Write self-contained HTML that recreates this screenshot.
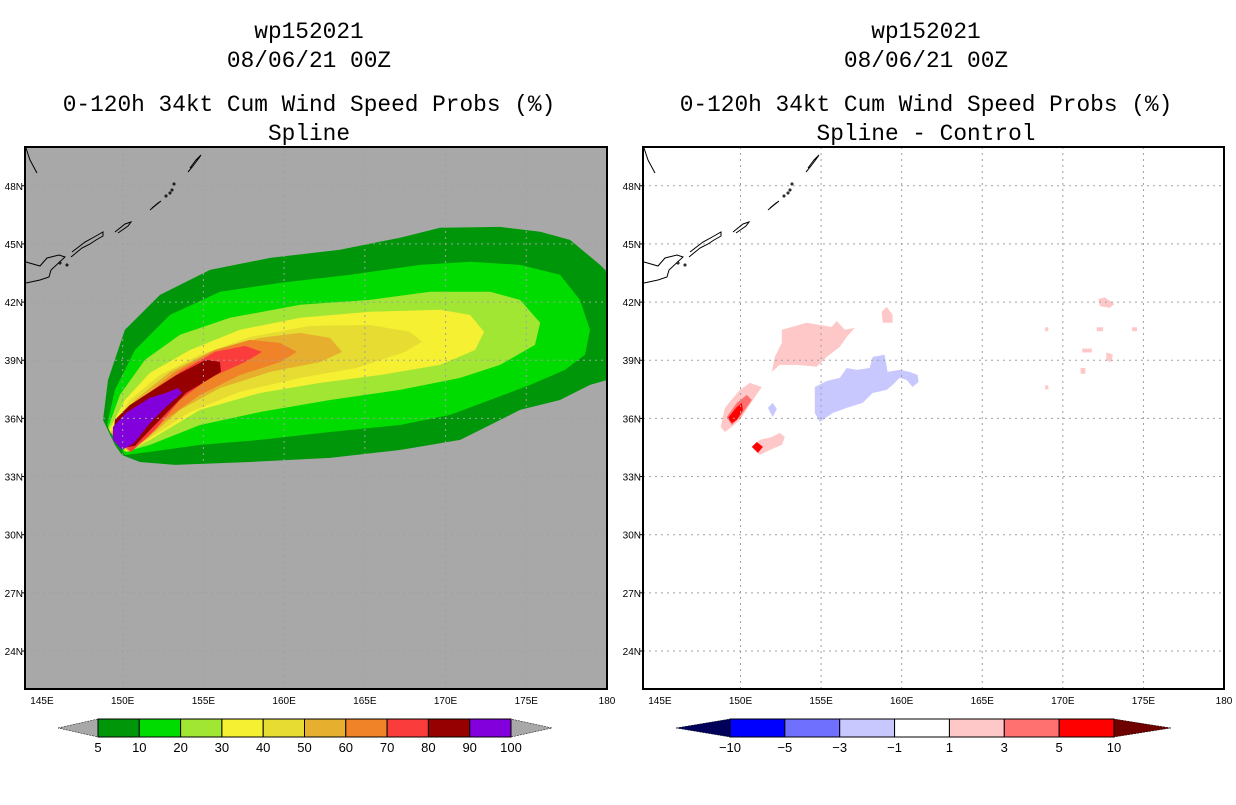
<!DOCTYPE html>
<html><head><meta charset="utf-8">
<style>
body{margin:0;background:#fff;width:1236px;height:800px;overflow:hidden;font-family:"Liberation Sans",sans-serif;}
svg text{font-family:"Liberation Sans",sans-serif;}
svg .ttl text{font-family:"Liberation Mono",monospace;}
</style></head>
<body>
<svg id="svg" width="1236" height="800" viewBox="0 0 1236 800" xmlns="http://www.w3.org/2000/svg">
<g class="ttl" font-size="22.8" text-anchor="middle" fill="#000">
<text x="309" y="38">wp152021</text>
<text x="309" y="67">08/06/21 00Z</text>
<text x="309" y="111">0-120h 34kt Cum Wind Speed Probs (%)</text>
<text x="309" y="140">Spline</text>
</g>
<g class="ttl" font-size="22.8" text-anchor="middle" fill="#000">
<text x="926" y="38">wp152021</text>
<text x="926" y="67">08/06/21 00Z</text>
<text x="926" y="111">0-120h 34kt Cum Wind Speed Probs (%)</text>
<text x="926" y="140">Spline - Control</text>
</g>
<g id="left"></g>
<g id="right"></g>
<g id="cbL"></g>
<g id="cbR"></g>
</svg>
<script>
// ---- data ----
const lonTicks = [145,150,155,160,165,170,175,180];
const lonTickLabels = ["145E","150E","155E","160E","165E","170E","175E","180"];
const latTicks = [24,27,30,33,36,39,42,45,48];
const latTickLabels = ["24N","27N","30N","33N","36N","39N","42N","45N","48N"];

const probLevels = [5,10,20,30,40,50,60,70,80,90];
const probColors = ["#00960a","#00dc00","#a0e632","#f5f032","#e6dc32","#e6af2d","#f08228","#fa3c3c","#960000","#8200dc"];
const probLabels = ["5","10","20","30","40","50","60","70","80","90","100"];

const prob5 = [[148.78,35.92],[149.09,37.98],[150.14,40.57],[152.31,42.37],[155.41,43.66],[159.13,44.28],[163.46,44.70],[167.18,45.32],[169.66,45.83],[173.38,45.88],[175.86,45.63],[177.71,45.21],[179.57,43.92],[180,43.56],[180,37.98],[178.95,37.73],[177.09,36.95],[174.62,36.44],[172.14,35.40],[170.90,34.89],[167.18,34.37],[162.84,33.96],[157.89,33.75],[153.24,33.60],[151.07,33.75],[149.96,34.11],[149.52,34.63]];
const prob10 = [[149.03,35.66],[149.52,37.47],[150.76,39.53],[152.93,41.34],[156.03,42.53],[159.75,42.99],[164.08,43.41],[168.42,43.92],[171.52,44.08],[174.62,43.92],[177.09,43.41],[178.33,42.11],[178.95,40.57],[178.64,39.28],[177.40,38.50],[175.24,37.73],[172.76,36.95],[170.28,36.18],[167.18,35.66],[162.84,35.30],[158.51,34.89],[154.79,34.63],[151.69,34.27],[150.14,34.11]];
const prob20 = [[149.09,35.51],[149.83,37.21],[151.38,39.02],[153.55,40.31],[156.65,41.19],[160.99,41.86],[165.32,42.11],[169.04,42.53],[172.76,42.53],[174.62,42.11],[175.86,40.93],[175.54,39.79],[173.38,38.76],[170.90,38.09],[167.18,37.47],[162.84,36.95],[158.51,36.33],[154.79,35.66],[151.69,34.63],[150.14,34.27]];
const prob30 = [[149.15,35.40],[150.14,36.95],[151.69,38.35],[154.17,39.53],[157.27,40.57],[160.99,41.19],[165.32,41.50],[169.66,41.60],[171.52,41.34],[172.39,40.46],[171.83,39.53],[169.66,38.76],[165.94,38.24],[162.22,37.83],[158.51,37.31],[154.79,36.44],[151.69,34.89],[150.27,34.27]];
const prob40 = [[149.21,35.30],[150.45,36.95],[152.31,38.24],[154.79,39.28],[157.89,40.20],[161.60,40.77],[165.32,40.82],[167.80,40.46],[168.54,39.95],[167.49,39.43],[164.45,38.60],[160.99,38.09],[157.27,37.37],[154.17,36.33],[151.69,34.99],[150.33,34.27]];
const prob50 = [[149.28,35.25],[150.76,36.95],[152.93,38.40],[155.41,39.43],[158.51,40.15],[160.99,40.41],[162.84,40.15],[163.59,39.43],[162.22,38.91],[159.13,38.40],[156.03,37.57],[153.55,36.44],[151.57,34.99],[150.39,34.27]];
const prob60 = [[149.34,35.20],[151.07,36.95],[153.24,38.40],[155.72,39.53],[157.89,40.05],[159.75,39.89],[160.80,39.43],[159.75,38.91],[157.27,38.24],[154.79,37.21],[152.62,35.92],[151.38,34.89],[150.45,34.27]];
const prob70 = [[149.40,35.15],[151.38,36.95],[153.55,38.40],[155.72,39.43],[157.58,39.74],[158.63,39.43],[157.58,38.91],[155.41,38.09],[153.55,36.95],[152.00,35.40],[150.52,34.27]];
const prob80 = [[149.52,35.92],[150.45,36.69],[153.24,38.19],[155.16,39.02],[156.03,38.91],[156.09,38.40],[153.92,37.31],[151.69,35.40],[150.76,34.58],[149.96,34.47],[149.40,34.89]];
const prob90 = [[153.43,37.57],[153.67,37.31],[152.68,36.59],[151.69,35.76],[150.70,34.73],[149.96,34.37],[149.40,34.89],[149.40,35.56],[150.20,36.28],[151.69,37.06],[152.68,37.31]];

const diffLabels = ["-10","-5","-3","-1","1","3","5","10"];
const diffColors = ["#0000ff","#7070ff","#c8c8ff","#ffffff","#ffc8c8","#ff7070","#ff0000"];

const diffPos1a = [[152.56,40.57],[154.11,40.93],[154.92,40.82],[155.66,40.72],[155.97,41.03],[156.47,40.57],[157.09,40.67],[156.59,40.20],[156.16,39.69],[155.35,39.17],[154.73,38.66],[153.49,38.76],[152.44,38.76],[151.94,38.40],[152.13,39.17],[152.56,39.89]];
const diffPos1b = [[149.03,36.54],[149.96,37.47],[150.58,37.83],[151.32,37.62],[150.77,36.95],[149.96,35.92],[149.46,35.56],[149.03,35.30],[148.78,35.56]];
const diffPos1c = [[150.70,34.53],[151.20,34.89],[151.94,35.04],[152.44,35.25],[152.75,35.04],[152.56,34.63],[151.82,34.37],[151.20,34.11]];
const diffPos1d = [[158.76,41.50],[159.07,41.75],[159.44,41.34],[159.44,40.93],[158.82,40.93]];
const diffPos1e = [[172.2,42.15],[172.6,42.25],[173.2,41.9],[172.9,41.7],[172.3,41.8]];
const diffPos1f = [[171.2,39.6],[171.8,39.6],[171.8,39.4],[171.2,39.4]];
const diffPos1g = [[172.7,39.4],[173.1,39.3],[173.0,38.9],[172.7,39.0]];
const diffPos1h = [[172.1,40.7],[172.5,40.7],[172.5,40.5],[172.1,40.5]];
const diffPos1i = [[174.3,40.7],[174.6,40.7],[174.6,40.5],[174.3,40.5]];
const diffPos1j = [[171.1,38.6],[171.4,38.6],[171.4,38.3],[171.1,38.3]];
const diffPos1k = [[168.9,37.7],[169.1,37.7],[169.1,37.5],[168.9,37.5]];
const diffPos1l = [[168.9,40.7],[169.1,40.7],[169.1,40.5],[168.9,40.5]];
const diffPos3 = [[149.15,36.07],[149.77,36.80],[150.39,37.21],[150.70,36.95],[149.96,36.07],[149.46,35.66]];
const diffPos5a = [[149.22,36.02],[149.77,36.59],[150.08,36.80],[150.15,36.44],[149.77,35.92],[149.46,35.76]];
const diffPos5b = [[150.70,34.53],[151.01,34.78],[151.39,34.53],[151.08,34.22]];
const diffNeg1a = [[154.61,37.62],[155.35,37.93],[156.16,38.09],[156.59,38.60],[157.21,38.50],[158.01,38.60],[158.20,39.17],[158.94,39.28],[159.13,38.40],[159.87,38.50],[160.49,38.40],[160.99,38.24],[161.05,37.88],[160.68,37.62],[160.31,37.98],[159.87,38.09],[159.44,37.73],[159.07,37.47],[158.20,37.31],[157.58,36.80],[156.59,36.54],[155.72,36.28],[154.92,35.82],[154.61,36.28]];
const diffNeg1b = [[151.7,36.54],[152.0,36.80],[152.25,36.49],[152.0,36.07]];

// ---- scales ----
const LON0=143.95, LON1=180, LAT0=22.04, LAT1=50.0;
const PY0=147, PY1=689;
function yS(lat){return PY0+(LAT1-lat)/(LAT1-LAT0)*(PY1-PY0);}
function makeX(px0,px1){return lon=>px0+(lon-LON0)/(LON1-LON0)*(px1-px0);}
const NS="http://www.w3.org/2000/svg";
function mk(tag,attrs,parent){const e=document.createElementNS(NS,tag);for(const k in attrs)e.setAttribute(k,attrs[k]);parent.appendChild(e);return e;}
function poly(parent,pts,xS,fill,name){
  const p=mk("polygon",{points:pts.map(d=>xS(d[0]).toFixed(1)+","+yS(d[1]).toFixed(1)).join(" "),fill:fill},parent);
  
  
}
function panel(g,px0,px1,bg,fillFn,idp){
  const xS=makeX(px0,px1);
  const r=mk("rect",{x:px0,y:PY0,width:px1-px0,height:PY1-PY0,fill:bg},g);
  
  
  const clipId=idp+"clip";
  const cp=mk("clipPath",{id:clipId},g);mk("rect",{x:px0,y:PY0,width:px1-px0,height:PY1-PY0},cp);
  const inner=mk("g",{"clip-path":"url(#"+clipId+")"},g);
  fillFn(inner,xS);
  lonTicks.slice(1,7).forEach(l=>{
    const ln=mk("line",{x1:xS(l),x2:xS(l),y1:PY0,y2:PY1,stroke:"#a0a0a0","stroke-dasharray":"2,4","stroke-width":1},inner);
    
    
  });
  latTicks.forEach(l=>{
    const ln=mk("line",{x1:px0,x2:px1,y1:yS(l),y2:yS(l),stroke:"#a0a0a0","stroke-dasharray":"2,4","stroke-width":1},inner);
    
    
  });
  const o=px0-25;
  const coast=[
    [[26,148],[30,160],[37,173]],
    [[26,262],[40,266],[47,258],[59,255],[65,257],[51,270],[49,277],[40,280],[26,283]],
    [[71,257],[82,248],[90,244],[96,240],[103,236],[103,232],[96,236],[85,242],[72,252]],
    [[115,232],[125,224],[131,222],[128,226],[118,233]],
    [[150,210],[156,205],[161,201],[158,203],[152,208]],
    [[188,172],[193,166],[199,158],[201,155],[196,160],[190,168]]
  ];
  const cg=mk("g",{fill:"none",stroke:"#000","stroke-width":1},inner);
  
  
  coast.forEach(c=>mk("polyline",{points:c.map(p=>(p[0]+o)+","+p[1]).join(" ")},cg));
  [[60,263],[67,265],[172,190],[174,184],[166,196],[170,193]].forEach(p=>mk("circle",{cx:p[0]+o,cy:p[1],r:1,fill:"none",stroke:"#000"},cg));
  const fr=mk("rect",{x:px0,y:PY0,width:px1-px0,height:PY1-PY0,fill:"none",stroke:"#000","stroke-width":2},g);
  
  
  lonTicks.forEach((l,i)=>{
    const t=mk("text",{x:xS(l),y:704,"font-size":10,"text-anchor":"middle",fill:"#000"},g);
    t.textContent=lonTickLabels[i];
    
    
  });
  latTicks.forEach((l,i)=>{
    const t=mk("text",{x:px0-2,y:yS(l)+4,"font-size":10,"text-anchor":"end",fill:"#000"},g);
    t.textContent=latTickLabels[i];
    
    
    mk("line",{x1:px0-3,x2:px0,y1:yS(l),y2:yS(l),stroke:"#000"},g);
  });
}
const probPolys=[prob5,prob10,prob20,prob30,prob40,prob50,prob60,prob70,prob80,prob90];
panel(document.getElementById("left"),25,607,"#a8a8a8",(g,xS)=>{
  probPolys.forEach((p,i)=>poly(g,p,xS,probColors[i],"prob-contour-"+probLevels[i]));
},"left");
panel(document.getElementById("right"),643,1224,"#ffffff",(g,xS)=>{
  [diffPos1a,diffPos1b,diffPos1c,diffPos1d,diffPos1e,diffPos1f,diffPos1g,diffPos1h,diffPos1i,diffPos1j,diffPos1k,diffPos1l].forEach(p=>poly(g,p,xS,diffColors[4],"diff-contour-pos1"));
  poly(g,diffPos3,xS,diffColors[5],"diff-contour-pos3");
  [diffPos5a,diffPos5b].forEach(p=>poly(g,p,xS,diffColors[6],"diff-contour-pos5"));
  [diffNeg1a,diffNeg1b].forEach(p=>poly(g,p,xS,diffColors[2],"diff-contour-neg1"));
},"right");

function colorbar(g,x0,x1,xa,xb,colors,labels,leftCol,rightCol){
  const y0=719,y1=737,ym=728,w=(xb-xa)/colors.length;
  let t=mk("polygon",{points:`${x0},${ym} ${xa},${y0} ${xa},${y1}`,fill:leftCol,stroke:"#000","stroke-width":0.5,"stroke-dasharray":"2,1"},g);
   
  t=mk("polygon",{points:`${x1},${ym} ${xb},${y0} ${xb},${y1}`,fill:rightCol,stroke:"#000","stroke-width":0.5,"stroke-dasharray":"2,1"},g);
   
  colors.forEach((c,i)=>{
    const r=mk("rect",{x:xa+i*w,y:y0,width:w,height:y1-y0,fill:c,stroke:"#000","stroke-width":1},g);
     
  });
  labels.forEach((l,i)=>{
    const tx=mk("text",{x:xa+i*w,y:752,"font-size":13,"text-anchor":"middle",fill:"#000"},g);
    tx.textContent=l.replace("-","\u2212");
     
  });
}
colorbar(document.getElementById("cbL"),58,552,98,511,probColors,probLabels,"#a8a8a8","#a8a8a8");
colorbar(document.getElementById("cbR"),676,1171,730,1114,diffColors,diffLabels,"#00005a","#6e0000");
</script>
</body></html>
